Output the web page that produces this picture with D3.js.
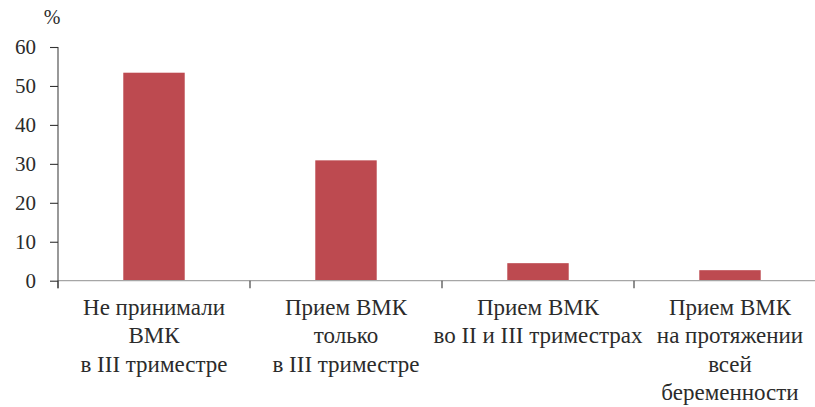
<!DOCTYPE html>
<html><head><meta charset="UTF-8" /></head>
<body style="margin:0">
<svg width="815" height="407"></svg>
<script src="https://d3js.org/d3.v7.min.js"></script>
<script>
    // data
    const categories = [
        ['Не принимали', 'ВМК', 'в III триместре'],
        ['Прием ВМК', 'только', 'в III триместре'],
        ['Прием ВМК', 'во II и III триместрах'],
        ['Прием ВМК', 'на протяжении', 'всей', 'беременности']
    ];
    const values = [53.4, 30.9, 4.5, 2.7];
    const yTicks = [0, 10, 20, 30, 40, 50, 60];

    const textColor = '#2b2b2b';

    const svg = d3.select('svg');
    const plotLeft = 58, plotTop = 47, plotBottom = 280.7;
    const bandW = 192;

    const x = d3.scaleBand()
        .domain(d3.range(categories.length))
        .range([plotLeft, plotLeft + bandW * categories.length])
        .paddingInner(0.68)
        .paddingOuter(0.34);

    const y = d3.scaleLinear().domain([0, 60]).range([plotBottom, plotTop]);

    // bars
    svg.append('g').selectAll('rect')
        .data(values)
        .join('rect')
        .attr('x', (d, i) => x(i))
        .attr('y', (d) => y(d))
        .attr('width', x.bandwidth())
        .attr('height', (d) => y(0) - y(d))
        .attr('fill', '#bd4a50');

    // x axis line (grey) and category ticks
    svg.append('line')
        .attr('x1', plotLeft).attr('x2', 815)
        .attr('y1', y(0)).attr('y2', y(0))
        .attr('stroke', '#a6a6a6').attr('stroke-width', 1.3);

    const boundaries = d3.range(categories.length).map((i) => plotLeft + bandW * i);
    svg.append('g').selectAll('line')
        .data(boundaries)
        .join('line')
        .attr('x1', (d) => d).attr('x2', (d) => d)
        .attr('y1', y(0)).attr('y2', y(0) + 7.5)
        .attr('stroke', '#333').attr('stroke-width', 1.1);

    // y axis: lines from d3, labels drawn by hand below
    const yAxis = svg.append('g')
        .attr('transform', `translate(${plotLeft},0)`)
        .call(d3.axisLeft(y).tickValues(yTicks).tickSize(8).tickFormat(''));
    yAxis.select('.domain').attr('stroke', '#444').attr('stroke-width', 1.1)
        .attr('d', `M-0,${plotTop}V${y(0) + 7.5}`);
    yAxis.selectAll('.tick line').attr('stroke', '#333').attr('stroke-width', 1.1);

    svg.append('g').selectAll('text')
        .data(yTicks)
        .join('text')
        .attr('x', plotLeft - 22)
        .attr('y', (d) => y(d) + 7)
        .attr('text-anchor', 'end')
        .attr('fill', textColor)
        .style('font-family', '"Liberation Serif"')
        .style('font-size', '21px')
        .text((d) => d);

    svg.append('text')
        .attr('x', 52).attr('y', 24)
        .attr('text-anchor', 'middle')
        .style('font-family', '"Liberation Serif"')
        .style('font-size', '20px')
        .attr('fill', textColor)
        .text('%');

    // category labels, one text per line
    const lines = [];
    categories.forEach((c, i) => c.forEach((t, j) => lines.push({ t, i, j })));
    svg.append('g').selectAll('text')
        .data(lines)
        .join('text')
        .attr('x', (d) => x(d.i) + x.bandwidth() / 2)
        .attr('y', (d) => 315 + d.j * 28.3)
        .attr('text-anchor', 'middle')
        .attr('fill', textColor)
        .style('font-family', '"Liberation Serif"')
        .style('font-size', '23px')
        .text((d) => d.t);
</script>
</body></html>
